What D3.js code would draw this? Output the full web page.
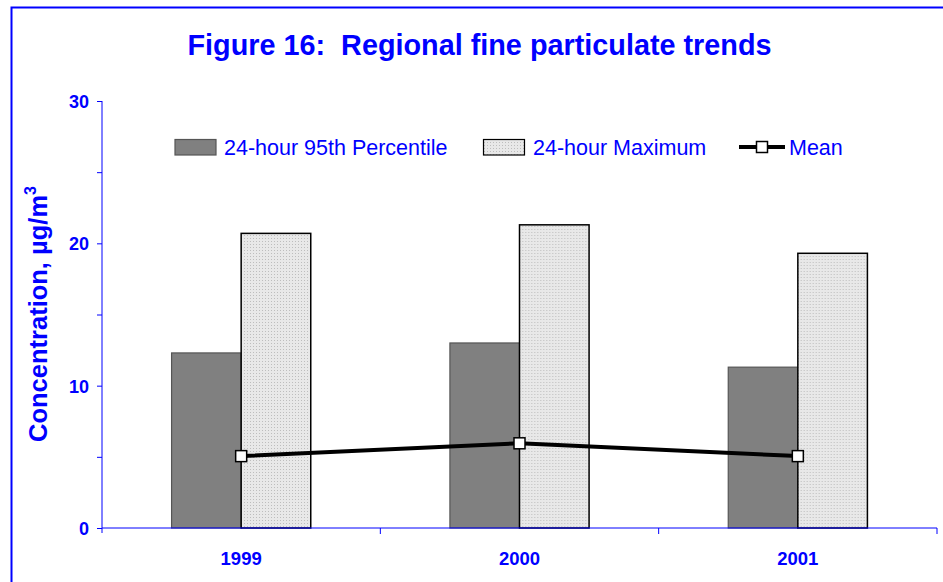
<!DOCTYPE html>
<html>
<head>
<meta charset="utf-8">
<script src="https://cdn.jsdelivr.net/npm/d3@7"></script>
<style>
  body { margin: 0; background: #fff; }
  svg { display: block; }
</style>
</head>
<body>
<div id="chart"></div>
<script>
const years = ["1999", "2000", "2001"];
const p95Vals = [12.3, 13.0, 11.3];
const maxVals = [20.7, 21.3, 19.3];
const meanVals = [5.05, 5.95, 5.05];
const seriesNames = ["24-hour 95th Percentile", "24-hour Maximum", "Mean"];
const yTicks = [0, 5, 10, 15, 20, 25, 30];

const width = 943, height = 582;
const blue = "#0000ff";
const font = "'Liberation Sans', Arial, sans-serif";

const svg = d3.select("#chart").append("svg")
  .attr("width", width)
  .attr("height", height);

// light dotted fill used by the maximum bars
const defs = svg.append("defs");
const pat = defs.append("pattern")
  .attr("id", "dots")
  .attr("width", 3).attr("height", 3)
  .attr("patternUnits", "userSpaceOnUse");
pat.append("rect").attr("width", 3).attr("height", 3).attr("fill", "#e8e8e8");
pat.append("rect").attr("x", 1).attr("y", 1).attr("width", 1).attr("height", 1).attr("fill", "#bdbdbd");

// outer frame
svg.append("path")
  .attr("d", `M11.5,${height} L11.5,7.5 L${width},7.5`)
  .attr("fill", "none")
  .attr("stroke", blue)
  .attr("stroke-width", 2);

const x0 = d3.scaleBand().domain(years).range([102, 937]).padding(0);
const bw = x0.bandwidth();
const x1 = d3.scaleBand().domain([0, 1]).range([bw * 0.25, bw * 0.75]).padding(0);
const y = d3.scaleLinear().domain([0, 30]).range([528, 101]);

// title
svg.append("text")
  .text("Figure 16:  Regional fine particulate trends")
  .attr("x", 479.5)
  .attr("y", 55)
  .attr("text-anchor", "middle")
  .attr("font-family", font)
  .attr("font-weight", "bold")
  .attr("font-size", 30)
  .attr("textLength", 584)
  .attr("lengthAdjust", "spacingAndGlyphs")
  .style("white-space", "pre")
  .attr("fill", blue);

// bars
const groups = svg.selectAll("g.year")
  .data(years)
  .join("g")
  .attr("class", "year")
  .attr("transform", d => `translate(${x0(d)},0)`);

groups.append("rect")
  .attr("x", x1(0))
  .attr("width", x1.bandwidth())
  .attr("y", (d, i) => y(p95Vals[i]))
  .attr("height", (d, i) => y(0) - y(p95Vals[i]))
  .attr("fill", "#808080")
  .attr("stroke", "#555")
  .attr("stroke-width", 1.2);

groups.append("rect")
  .attr("x", x1(1))
  .attr("width", x1.bandwidth())
  .attr("y", (d, i) => y(maxVals[i]))
  .attr("height", (d, i) => y(0) - y(maxVals[i]))
  .attr("fill", "url(#dots)")
  .attr("stroke", "#000")
  .attr("stroke-width", 1.5);

// axes
const yAxis = d3.axisLeft(y)
  .tickValues(yTicks)
  .tickSize(5)
  .tickFormat(d => d % 10 === 0 ? d : "");

const gy = svg.append("g")
  .attr("transform", "translate(102,0)")
  .call(yAxis);
gy.select(".domain").attr("d", "M0,101V533");
gy.selectAll("line, path").attr("stroke", blue);
gy.selectAll("text")
  .attr("x", -13)
  .attr("dy", "0.36em")
  .attr("fill", blue)
  .attr("font-family", font)
  .attr("font-weight", "bold")
  .attr("font-size", 18);

const gx = svg.append("g")
  .attr("transform", "translate(0,528)");
gx.append("line")
  .attr("x1", 102).attr("x2", 937)
  .attr("stroke", blue);
gx.selectAll("line.tk")
  .data(years)
  .join("line")
  .attr("class", "tk")
  .attr("x1", d => x0(d) + bw).attr("x2", d => x0(d) + bw)
  .attr("y1", 0).attr("y2", 6)
  .attr("stroke", blue);
gx.selectAll("text")
  .data(years)
  .join("text")
  .text(d => d)
  .attr("x", d => x0(d) + bw / 2)
  .attr("y", 37)
  .attr("text-anchor", "middle")
  .attr("fill", blue)
  .attr("font-family", font)
  .attr("font-weight", "bold")
  .attr("font-size", 18.5);

// y axis title
const yt = svg.append("text")
  .attr("transform", "translate(47,314) rotate(-90)")
  .attr("text-anchor", "middle")
  .attr("fill", blue)
  .attr("font-family", font)
  .attr("font-weight", "bold")
  .attr("font-size", 25.5);
yt.append("tspan").text("Concentration, \u00b5g/m");
yt.append("tspan").text("3").attr("font-size", 16).attr("dy", -11);

// mean line
const line = d3.line()
  .x((d, i) => x0(years[i]) + bw / 2)
  .y(d => y(d));

svg.append("path")
  .datum(meanVals)
  .attr("d", line)
  .attr("fill", "none")
  .attr("stroke", "#000")
  .attr("stroke-width", 4);

svg.selectAll("rect.mk")
  .data(meanVals)
  .join("rect")
  .attr("class", "mk")
  .attr("x", (d, i) => x0(years[i]) + bw / 2 - 5.5)
  .attr("y", d => y(d) - 5.5)
  .attr("width", 11).attr("height", 11)
  .attr("fill", "#fff")
  .attr("stroke", "#000")
  .attr("stroke-width", 1.5);

// legend
const leg = svg.append("g");
const legText = (x, t) => leg.append("text")
  .text(t)
  .attr("x", x).attr("y", 155)
  .attr("fill", blue)
  .attr("font-family", font)
  .attr("font-size", 21.5);

leg.append("rect")
  .attr("x", 175).attr("y", 139.5).attr("width", 41).attr("height", 15.5)
  .attr("fill", "#808080").attr("stroke", "#555").attr("stroke-width", 1.2);
legText(224, seriesNames[0]);

leg.append("rect")
  .attr("x", 483.5).attr("y", 139.5).attr("width", 41).attr("height", 15.5)
  .attr("fill", "url(#dots)").attr("stroke", "#000").attr("stroke-width", 1.2);
legText(533, seriesNames[1]);

leg.append("line")
  .attr("x1", 739).attr("x2", 785).attr("y1", 147).attr("y2", 147)
  .attr("stroke", "#000").attr("stroke-width", 4);
leg.append("rect")
  .attr("x", 756.5).attr("y", 141.5).attr("width", 11).attr("height", 11)
  .attr("fill", "#fff").attr("stroke", "#000").attr("stroke-width", 1.5);
legText(789, seriesNames[2]);
</script>
</body>
</html>
